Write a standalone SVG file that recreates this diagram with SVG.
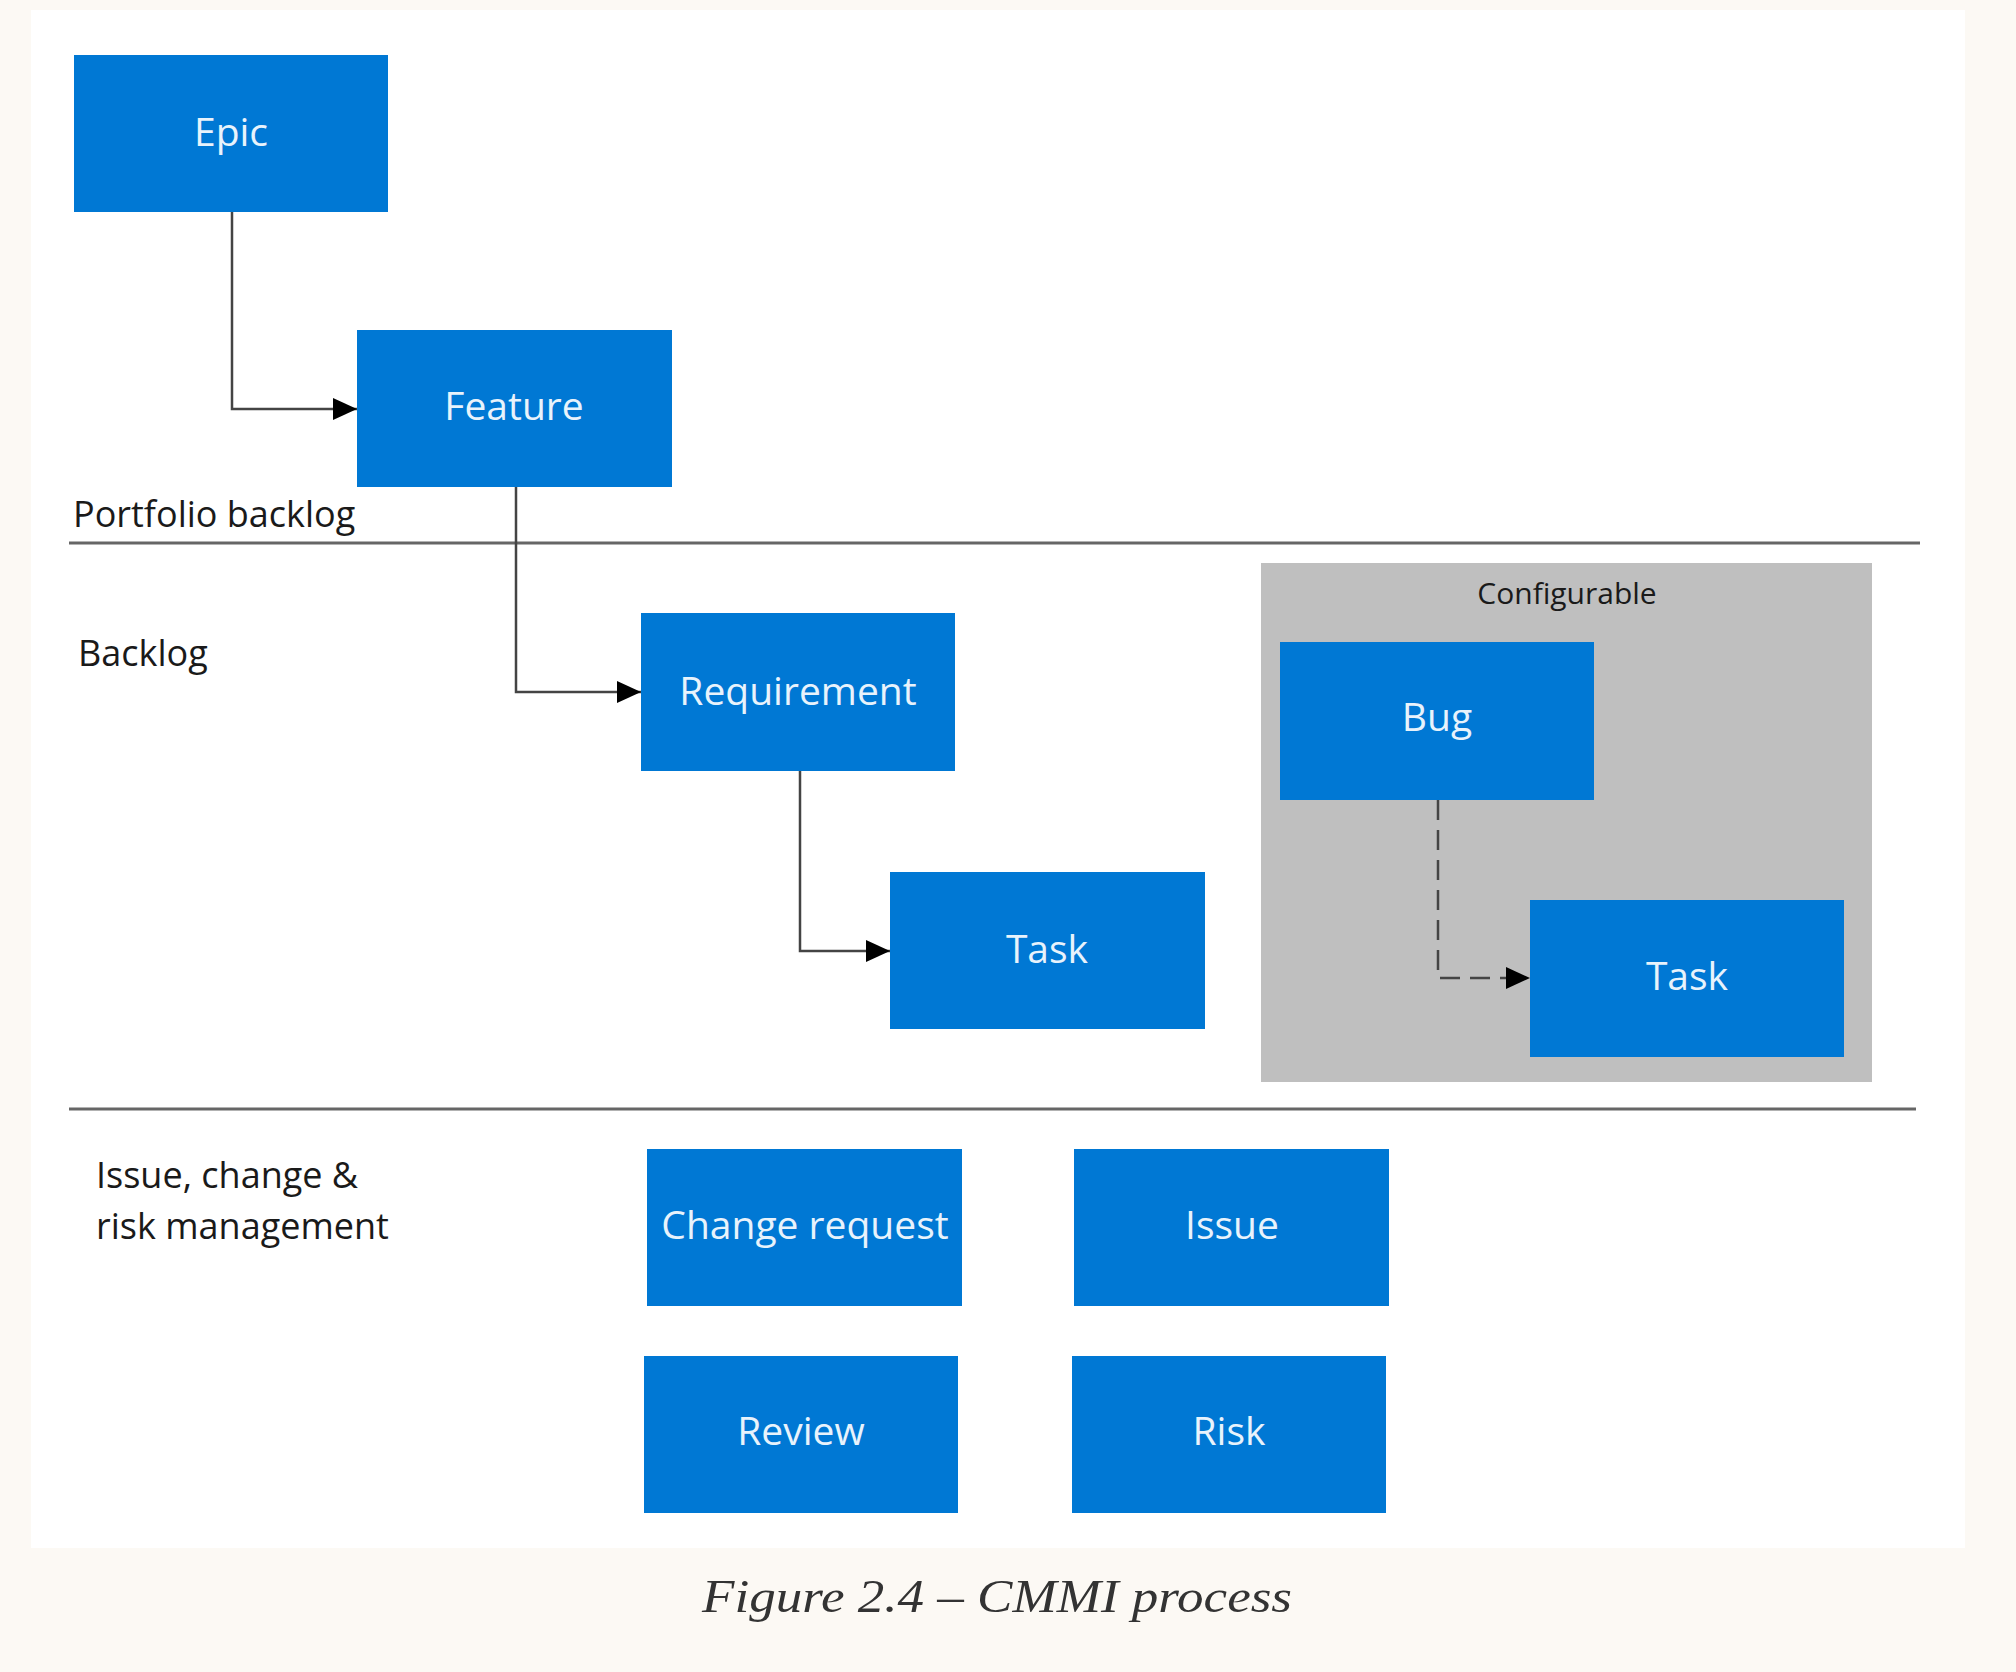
<svg xmlns="http://www.w3.org/2000/svg" width="2016" height="1672" viewBox="0 0 2016 1672">
<style>
.box{fill:#0078D4;}
.nt{font-family:"Open Sans","Noto Sans",sans-serif;font-size:39px;fill:#E8F3FC;text-anchor:middle;}
.lb{font-family:"Open Sans","Noto Sans",sans-serif;font-size:36px;fill:#1a1a1a;}
.cfg{font-family:"Open Sans","Noto Sans",sans-serif;font-size:30px;fill:#1a1a1a;text-anchor:middle;}
.sep{stroke:#666;stroke-width:3;}
.con{fill:none;stroke:#444;stroke-width:2.5;}
</style>
<defs>
<marker id="arr" markerUnits="userSpaceOnUse" markerWidth="24" markerHeight="22" refX="24" refY="11" orient="auto">
<path d="M0,0 L24,11 L0,22 z" fill="#000"/>
</marker>
</defs>
<rect x="0" y="0" width="2016" height="1672" fill="#FCF9F4"/>
<rect x="31" y="10" width="1934" height="1538" fill="#FFFFFF"/>
<rect x="1261" y="563" width="611" height="519" fill="#BFBFBF"/>
<text class="cfg" x="1567" y="604">Configurable</text>
<line class="sep" x1="69" y1="543" x2="1920" y2="543"/>
<line class="sep" x1="69" y1="1109" x2="1916" y2="1109"/>
<text class="lb" x="73" y="527">Portfolio backlog</text>
<text class="lb" x="78" y="666">Backlog</text>
<text class="lb" x="96" y="1188">Issue, change &amp;</text>
<text class="lb" x="96" y="1239">risk management</text>
<g id="connectors">
<path class="con" d="M232,212 V409 H357" marker-end="url(#arr)"/>
<path class="con" d="M516,487 V692 H641" marker-end="url(#arr)"/>
<path class="con" d="M800,771 V951 H890" marker-end="url(#arr)"/>
<path class="con" d="M1438,800 V978 H1530" stroke-dasharray="20 10" marker-end="url(#arr)"/>
</g>
<g id="epic"><rect class="box" x="74" y="55" width="314" height="157"/><text class="nt" x="231" y="146">Epic</text></g>
<g id="feature"><rect class="box" x="357" y="330" width="315" height="157"/><text class="nt" x="514" y="420">Feature</text></g>
<g id="requirement"><rect class="box" x="641" y="613" width="314" height="158"/><text class="nt" x="798" y="705">Requirement</text></g>
<g id="task"><rect class="box" x="890" y="872" width="315" height="157"/><text class="nt" x="1047" y="963">Task</text></g>
<g id="bug"><rect class="box" x="1280" y="642" width="314" height="158"/><text class="nt" x="1437" y="731">Bug</text></g>
<g id="task2"><rect class="box" x="1530" y="900" width="314" height="157"/><text class="nt" x="1687" y="990">Task</text></g>
<g id="change-request"><rect class="box" x="647" y="1149" width="315" height="157"/><text class="nt" x="805" y="1239">Change request</text></g>
<g id="issue"><rect class="box" x="1074" y="1149" width="315" height="157"/><text class="nt" x="1232" y="1239">Issue</text></g>
<g id="review"><rect class="box" x="644" y="1356" width="314" height="157"/><text class="nt" x="801" y="1445">Review</text></g>
<g id="risk"><rect class="box" x="1072" y="1356" width="314" height="157"/><text class="nt" x="1229" y="1445">Risk</text></g>
<text x="997" y="1612" text-anchor="middle" font-family="'Liberation Serif','DejaVu Serif',serif" font-style="italic" font-size="46" fill="#333333" textLength="590" lengthAdjust="spacingAndGlyphs">Figure 2.4 – CMMI process</text>
</svg>
